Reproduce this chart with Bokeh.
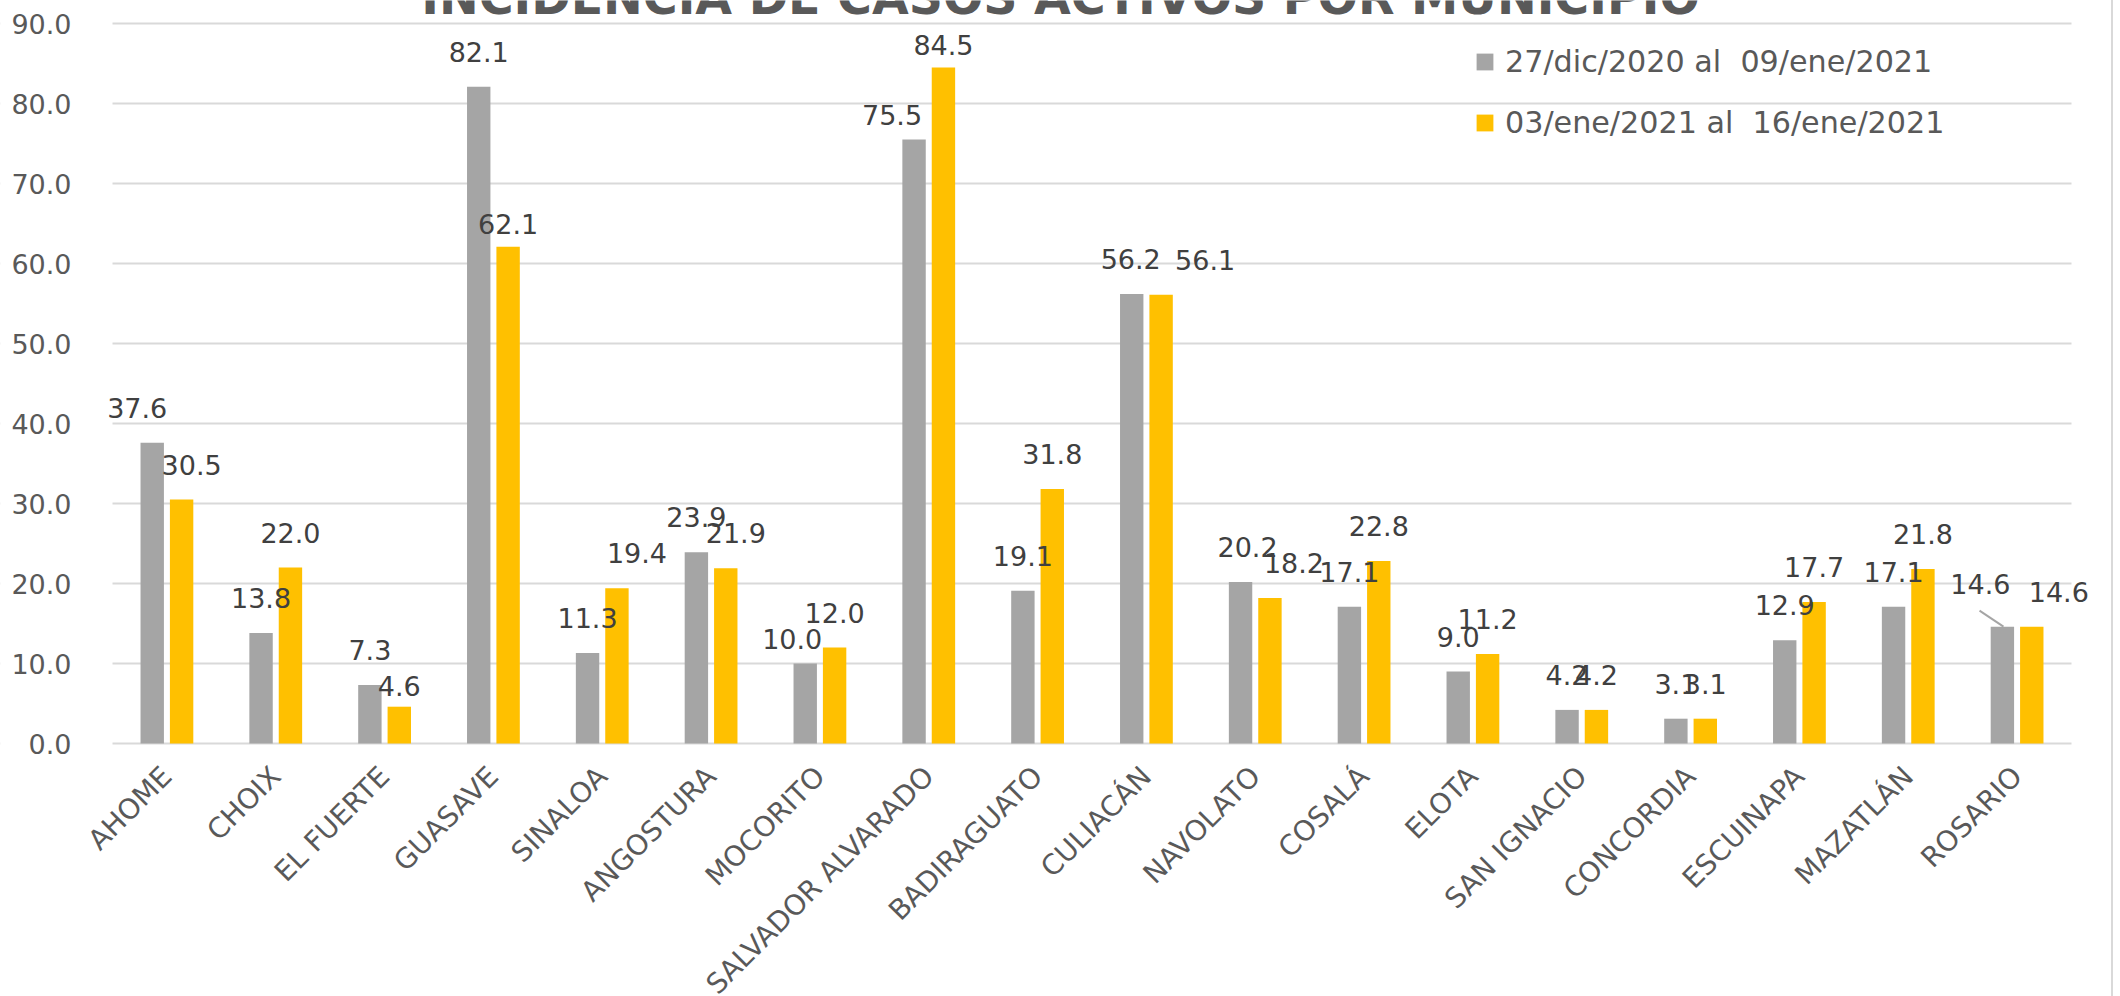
import math
from bokeh.plotting import figure
from bokeh.models import (ColumnDataSource, Range1d, FixedTicker, BoxAnnotation,
                          NumeralTickFormatter, Legend, LegendItem, Label)
from bokeh.core.properties import value
from bokeh.embed import file_html
from bokeh.resources import INLINE

# ---------------- data ----------------
municipios = ["AHOME", "CHOIX", "EL FUERTE", "GUASAVE", "SINALOA", "ANGOSTURA",
              "MOCORITO", "SALVADOR ALVARADO", "BADIRAGUATO", "CULIACÁN",
              "NAVOLATO", "COSALÁ", "ELOTA", "SAN IGNACIO", "CONCORDIA",
              "ESCUINAPA", "MAZATLÁN", "ROSARIO"]
serie1_name = "27/dic/2020 al  09/ene/2021"
serie2_name = "03/ene/2021 al  16/ene/2021"
serie1 = [37.6, 13.8, 7.3, 82.1, 11.3, 23.9, 10.0, 75.5, 19.1, 56.2,
          20.2, 17.1, 9.0, 4.2, 3.1, 12.9, 17.1, 14.6]
serie2 = [30.5, 22.0, 4.6, 62.1, 19.4, 21.9, 12.0, 84.5, 31.8, 56.1,
          18.2, 22.8, 11.2, 4.2, 3.1, 17.7, 21.8, 14.6]
y_ticks = [0, 10, 20, 30, 40, 50, 60, 70, 80, 90]
title_text = "INCIDENCIA DE CASOS ACTIVOS POR MUNICIPIO"

# ------------- label nudges (layout only, pixels) -------------
s1_dx = [-15, 0, 0, 0, 0, 0, -13, -22, 0, -1, 7, 0, 0, 0, 0, 0, 0, -22]
s1_dy = [0, 0, 0, 0, 0, 0, 10, 10, 0, 0, 0, 0, 0, 0, 0, 0, 0, -8]
s2_dx = [10, 0, 0, 0, 20, 10, 0, 0, 0, 44, 24, 0, 0, 0, 0, 0, 0, 27]
s2_dy = [0, 0, 14, 12, 0, 0, 0, 12, 0, 0, 0, 0, 0, 0, 0, 0, 0, 0]

GRAY = "#A5A5A5"
GOLD = "#FFC000"
TXT = "#595959"
FONT = "DejaVu Sans"
OFF = 0.135
BW = 0.215
GAP = 35

W, H = 2113, 996
LEFT_PX, RIGHT_PX = 112, 42          # margins of the category area
n = len(municipios)
CW = (W - LEFT_PX - RIGHT_PX) / n    # pixels per category
pos = list(range(n))

p = figure(width=W, height=H, output_backend="svg", toolbar_location=None,
           x_range=Range1d(-0.5 - LEFT_PX / CW, n - 0.5 + RIGHT_PX / CW),
           y_range=Range1d(-31.625, 92.875), title=None,
           min_border_left=0, min_border_right=0, min_border_top=0,
           min_border_bottom=0)
p.styles = {"border-right": "2px solid #D9D9D9"}
p.outline_line_color = None
p.background_fill_color = "white"
p.border_fill_color = "white"

src = ColumnDataSource(dict(
    x1=[i - OFF for i in pos], x2=[i + OFF for i in pos],
    s1=serie1, s2=serie2,
    l1=[f"{v:.1f}" for v in serie1], l2=[f"{v:.1f}" for v in serie2],
    dx1=s1_dx, dy1=[d - GAP for d in s1_dy],
    dx2=s2_dx, dy2=[d - GAP for d in s2_dy]))

p.xgrid.grid_line_color = None
p.ygrid.ticker = FixedTicker(ticks=y_ticks)
p.ygrid.grid_line_color = "#D9D9D9"
p.ygrid.grid_line_width = 2
# keep grid lines inside the category area only
p.add_layout(BoxAnnotation(right=-0.5, fill_color="white", fill_alpha=1.0,
                           line_color=None, level="underlay"))
p.add_layout(BoxAnnotation(left=n - 0.5, fill_color="white", fill_alpha=1.0,
                           line_color=None, level="underlay"))

r1 = p.vbar(x="x1", top="s1", bottom=0, width=BW,
            fill_color=GRAY, line_color=None, source=src)
r2 = p.vbar(x="x2", top="s2", bottom=0, width=BW,
            fill_color=GOLD, line_color=None, source=src)

common = dict(text_font=value(FONT), text_font_size="27px", text_color="#404040",
              text_align="center", text_baseline="alphabetic", source=src)
p.text(x="x1", y="s1", text="l1", x_offset="dx1", y_offset="dy1", **common)
p.text(x="x2", y="s2", text="l2", x_offset="dx2", y_offset="dy2", **common)

# leader line for the displaced ROSARIO label
i = municipios.index("ROSARIO")
xc = i - OFF
p.segment(x0=[xc + 0.01], y0=[serie1[i]], x1=[xc - 0.21], y1=[serie1[i] + 2.0],
          line_color="#A5A5A5", line_width=2)

# axes
p.yaxis.fixed_location = -0.5
p.yaxis.ticker = FixedTicker(ticks=y_ticks)
p.yaxis.formatter = NumeralTickFormatter(format="0.0")
p.yaxis.axis_line_color = None
p.yaxis.major_tick_line_color = None
p.yaxis.minor_tick_line_color = None
p.yaxis.major_label_text_font = FONT
p.yaxis.major_label_text_font_size = "27px"
p.yaxis.major_label_text_color = TXT
p.yaxis.major_label_standoff = 35

p.xaxis.fixed_location = 0
p.xaxis.ticker = FixedTicker(ticks=pos)
p.xaxis.major_label_overrides = {i: m for i, m in zip(pos, municipios)}
p.xaxis.axis_line_color = None
p.xaxis.major_tick_line_color = None
p.xaxis.minor_tick_line_color = None
p.xaxis.major_label_orientation = math.pi / 4
p.xaxis.major_label_text_font = FONT
p.xaxis.major_label_text_font_size = "28px"
p.xaxis.major_label_text_color = TXT
p.xaxis.major_label_standoff = 22

# title (cut off at top as in the original)
p.add_layout(Label(x=-0.5 + (1060 - LEFT_PX) / CW, y=93.3, text=title_text,
                   text_font=FONT, text_font_size="47.5px",
                   text_font_style="bold", text_color=TXT,
                   text_align="center", text_baseline="alphabetic"))

legend = Legend(items=[LegendItem(label=serie1_name, renderers=[r1]),
                       LegendItem(label=serie2_name, renderers=[r2])],
                location=(1474, 856), orientation="vertical",
                glyph_width=21, glyph_height=21, label_standoff=10,
                spacing=26, padding=0, margin=0,
                label_text_font=FONT, label_text_font_size="30.2px",
                label_text_color=TXT, border_line_color=None,
                background_fill_alpha=0)
p.add_layout(legend)

open("out.html", "w").write(file_html(p, INLINE))
